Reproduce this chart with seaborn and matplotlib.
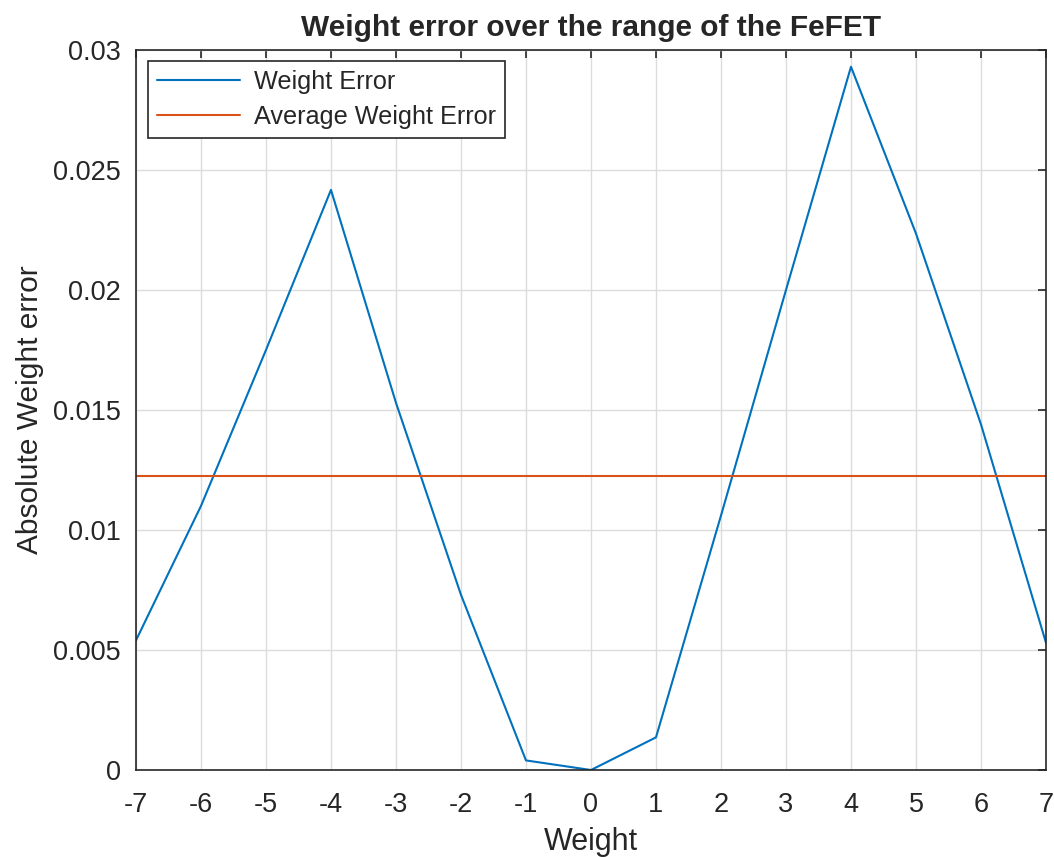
import numpy as np
import pandas as pd
import seaborn as sns
import matplotlib
matplotlib.use('Agg')
import matplotlib.pyplot as plt

weights = [-7, -6, -5, -4, -3, -2, -1, 0, 1, 2, 3, 4, 5, 6, 7]
weight_error = [0.0054, 0.0110, 0.0175, 0.02417, 0.0153, 0.0073, 0.0004, 0.0,
                0.00136, 0.0106, 0.0200, 0.0293, 0.02235, 0.0144, 0.0053]
avg_error = 0.01223

df = pd.DataFrame({'Weight': weights, 'Error': weight_error})

sns.set_style("whitegrid")
plt.rcParams['font.family'] = ['Liberation Sans', 'DejaVu Sans']
plt.rcParams['axes.unicode_minus'] = False

fig = plt.figure(figsize=(10.54, 8.57), dpi=100)
ax = fig.add_axes([0.129, 0.1015, 0.8634, 0.8402])

sns.lineplot(data=df, x='Weight', y='Error', color='#0072BD', linewidth=1.5,
             label='Weight Error', ax=ax)
ax.axhline(avg_error, color='#D95319', linewidth=1.5, label='Average Weight Error')

ax.set_xlim(-7, 7)
ax.set_ylim(0, 0.03)
ax.set_xticks(range(-7, 8))
ax.set_yticks([0, 0.005, 0.01, 0.015, 0.02, 0.025, 0.03])
ax.set_yticklabels(['0', '0.005', '0.01', '0.015', '0.02', '0.025', '0.03'])

ax.grid(True, color='#dcdcdc', linewidth=1)
for s in ax.spines.values():
    s.set_color('#262626')
    s.set_linewidth(1.2)
ax.tick_params(direction='in', length=6, width=1.2, colors='#262626',
               top=True, right=True, labelsize=19.5)
ax.tick_params(axis='y', pad=11)
ax.tick_params(axis='x', pad=16)

ax.set_xlabel('Weight', fontsize=22, color='#262626', labelpad=6)
ax.set_ylabel('Absolute Weight error', fontsize=21.5, color='#262626', labelpad=6)
ax.set_title('Weight error over the range of the FeFET', fontsize=21.5,
             fontweight='bold', pad=10)

leg = ax.legend(loc='upper left', bbox_to_anchor=(0.0132, 0.985), fontsize=18.2,
                frameon=True, fancybox=False, borderaxespad=0,
                handlelength=3.3, labelspacing=0.45, borderpad=0.35, handletextpad=0.55)
leg.get_frame().set_edgecolor('#262626')
leg.get_frame().set_linewidth(1.2)
leg.get_frame().set_alpha(1)

fig.savefig('out.png', dpi=100)
